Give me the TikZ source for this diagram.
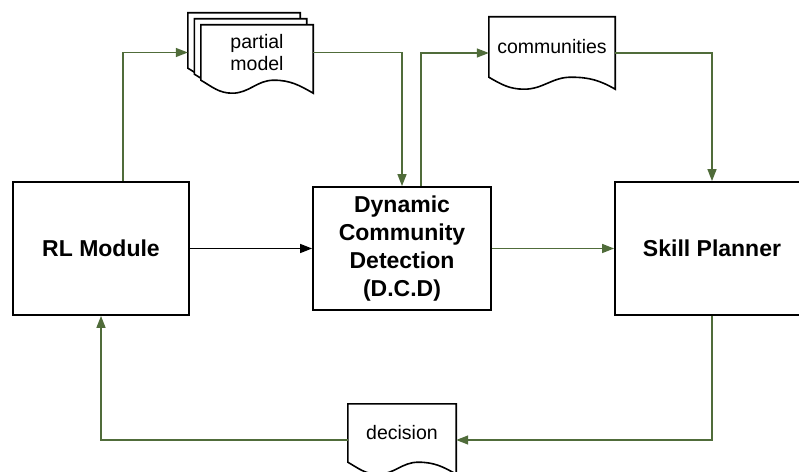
\documentclass[tikz,border=0pt]{standalone}
\usepackage{fontspec}
\setmainfont{Liberation Sans}
\definecolor{flowgreen}{RGB}{80,108,58}
\usetikzlibrary{arrows.meta,positioning,calc,backgrounds}
\newcommand{\docoutline}[2]{%
  \filldraw[docline] (#1.south west) -- (#1.north west) -- (#1.north east)
    -- ([yshift=-#2]#1.south east)
    to[out=150,in=0] ($(#1.south west)!0.65!(#1.south east)$)
    to[out=180,in=0] ($(#1.south west)!0.28!(#1.south east)+(0,-#2)$)
    to[out=180,in=-30] (#1.south west) -- cycle;}

\begin{document}
\begin{tikzpicture}[x=1pt,y=1pt,
    blk/.style={rectangle, draw=black, line width=1.8pt, fill=white, align=center,
                inner sep=0pt, font=\fontsize{23}{28}\selectfont\bfseries},
    docbox/.style={rectangle, inner sep=0pt, align=center,
                   font=\fontsize{19.5}{22}\selectfont},
    docline/.style={draw=black, fill=white, line width=1.6pt},
    garr/.style={-{Triangle[length=12pt,width=9pt]}, line width=1.4pt, flowgreen},
    karr/.style={-{Triangle[length=12pt,width=9pt]}, line width=1.4pt, black}
  ]
  \useasboundingbox (0,0) rectangle (799,471);

  \node[blk, minimum width=176pt, minimum height=133pt] (rl)  at (101,222.5) {RL Module};
  \node[blk, minimum width=178pt, minimum height=123pt] (dcd) at (402,222.5) {Dynamic\\Community\\Detection\\(D.C.D)};
  \node[blk, minimum width=194pt, minimum height=133pt] (sp)  at (712,222.5) {Skill Planner};

  \node[docbox, minimum width=112pt, minimum height=55pt] (pmback) at (244,430.5) {};
  \node[docbox, minimum width=112pt, minimum height=55pt] (pmmid)  at (250.5,424.5) {};
  \node[docbox, minimum width=112pt, minimum height=55pt] (pm)     at (257,418.5) {partial\\model};
  \node[docbox, minimum width=126pt, minimum height=60pt] (comm)   at (552,424) {communities};
  \node[docbox, minimum width=108pt, minimum height=58pt] (dec)    at (402,38) {decision};

  \begin{scope}[on background layer]
    \docoutline{pmback}{13pt}
    \docoutline{pmmid}{13pt}
    \docoutline{pm}{13pt}
    \docoutline{comm}{12pt}
    \docoutline{dec}{12pt}
  \end{scope}

  \draw[karr] (rl.east) -- (dcd.west);
  \draw[garr] (dcd.east) -- (sp.west);
  \draw[garr] ([xshift=22pt]rl.north) |- (pmback.west |- pm.west);
  \draw[garr] (pm.east) -| (dcd.north);
  \draw[garr] ([xshift=19pt]dcd.north) |- ([yshift=-6pt]comm.west);
  \draw[garr] ([yshift=-6pt]comm.east) -| (sp.north);
  \draw[garr] (sp.south) |- ([yshift=-7pt]dec.east);
  \draw[garr] ([yshift=-7pt]dec.west) -| (rl.south);
\end{tikzpicture}
\end{document}
